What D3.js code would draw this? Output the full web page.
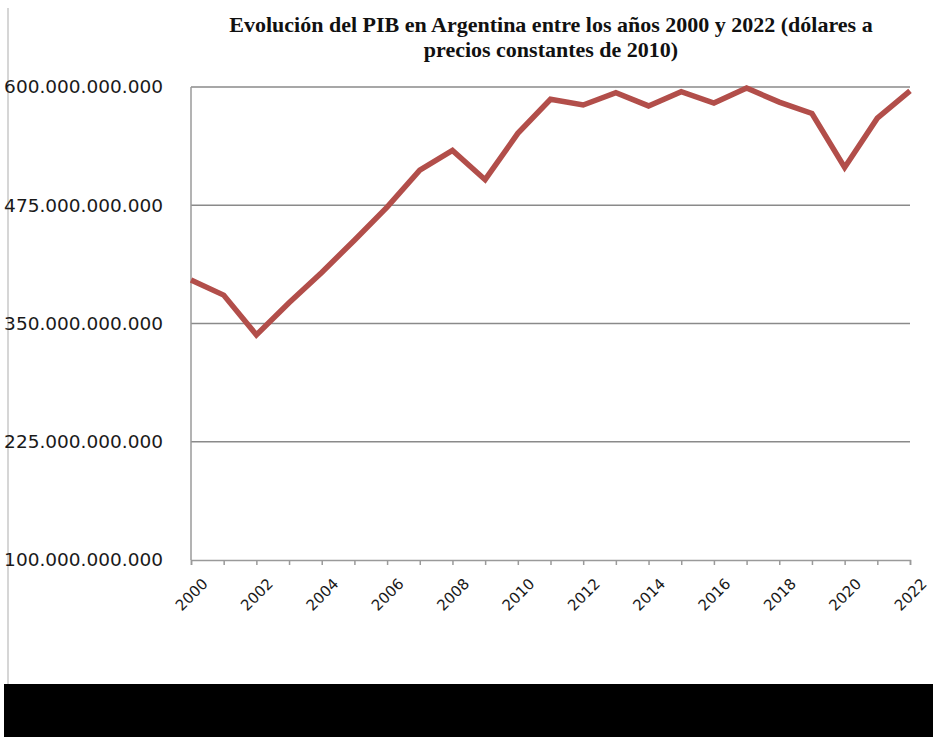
<html>
<head>
<meta charset="utf-8">
<style>
  body { margin: 0; background: #fff; }
</style>
</head>
<body>
<svg id="mainSvg" width="933" height="737"></svg>
<script src="https://d3js.org/d3.v7.min.js"></script>
<script>
  const years = d3.range(2000, 2023)
  // PIB en miles de millones de dólares (precios constantes de 2010)
  const pib = [396, 380, 338, 372, 404, 438, 473, 512, 533, 502, 551, 587,
               581, 594, 580, 595, 583, 599, 584, 572, 515, 567, 596]
  const yTicks = [100, 225, 350, 475, 600]
  const xLabelYears = d3.range(2000, 2023, 2)
  const titleLines = ['Evolución del PIB en Argentina entre los años 2000 y 2022 (dólares a',
                      'precios constantes de 2010)']

  const svg = d3.select('#mainSvg')
  const margin = { top: 87, right: 23, bottom: 177, left: 191 }
  const innerWidth = svg.attr('width') - margin.left - margin.right
  const innerHeight = svg.attr('height') - margin.top - margin.bottom

  // marco izquierdo y franja negra inferior
  svg.append('line').attr('x1', 8).attr('x2', 8).attr('y1', 8).attr('y2', 684)
      .attr('stroke', '#c8c8c8').attr('stroke-width', 1.5)
  svg.append('rect').attr('x', 4).attr('y', 684).attr('width', 929).attr('height', 53)
      .attr('fill', '#000')

  const g = svg.append('g').attr('transform', `translate(${margin.left}, ${margin.top})`)

  const xScale = d3.scaleLinear().domain([2000, 2022]).range([0, innerWidth])
  const yScale = d3.scaleLinear().domain([100, 600]).range([innerHeight, 0])

  // líneas de cuadrícula
  g.selectAll('.grid').data(yTicks.slice(1)).join('line')
      .attr('x1', 0).attr('x2', innerWidth)
      .attr('y1', d => yScale(d)).attr('y2', d => yScale(d))
      .attr('stroke', '#8a8a8a').attr('stroke-width', 1.3)

  // eje Y
  g.append('line').attr('x1', 0).attr('x2', 0).attr('y1', 0).attr('y2', innerHeight)
      .attr('stroke', '#9a9a9a').attr('stroke-width', 1.5)
  g.selectAll('.ylab').data(yTicks).join('text')
      .attr('x', -28).attr('y', d => yScale(d)).attr('dy', '0.35em')
      .attr('text-anchor', 'end')
      .attr('font-family', 'DejaVu Sans').attr('font-size', 18.5).attr('fill', '#1a1a1a')
      .text(d => d3.format('03d')(d) + '.000.000.000')

  // eje X
  const xAxis = g.append('g').attr('transform', `translate(0, ${innerHeight})`)
      .call(d3.axisBottom(xScale).tickValues(years).tickSize(5).tickFormat(''))
  xAxis.selectAll('path, line').attr('stroke', '#9a9a9a').attr('stroke-width', 1.5)

  g.selectAll('.xlab').data(xLabelYears).join('text')
      .attr('transform', d => `translate(${xScale(d) + 14}, ${innerHeight + 21}) rotate(-45)`)
      .attr('text-anchor', 'end').attr('dy', '0.35em')
      .attr('font-family', 'DejaVu Sans').attr('font-size', 15).attr('fill', '#1a1a1a')
      .text(d => d)

  // serie
  const line = d3.line().x((d, i) => xScale(years[i])).y(d => yScale(d))
  g.append('path').datum(pib)
      .attr('fill', 'none').attr('stroke', '#b24e4a').attr('stroke-width', 5.5)
      .attr('stroke-linejoin', 'miter').attr('d', line)

  // título
  svg.selectAll('.title').data(titleLines).join('text')
      .attr('x', 551).attr('y', (d, i) => 32 + i * 25)
      .attr('text-anchor', 'middle')
      .attr('font-family', 'Liberation Serif').attr('font-weight', 'bold')
      .attr('font-size', 22).attr('fill', '#111')
      .text(d => d)
</script>
</body>
</html>
